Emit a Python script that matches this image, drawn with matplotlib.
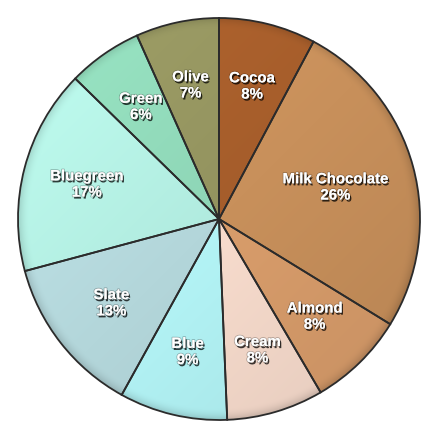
import numpy as np
import matplotlib.pyplot as plt
import matplotlib.colors as mcolors
import matplotlib.patheffects as pe

# slice shares, clockwise from 12 o'clock
flavours = ['Cocoa', 'Milk Chocolate', 'Almond', 'Cream', 'Blue',
            'Slate', 'Bluegreen', 'Green', 'Olive']
shares = [7.8, 26.0, 7.8, 7.8, 8.7, 12.8, 16.5, 6.0, 6.7]
pct_labels = ['8%', '26%', '8%', '8%', '9%', '13%', '17%', '6%', '7%']

colors = ['#a55d2b', '#c8905b', '#d99d6b', '#f8dccd', '#b3f4f6',
          '#b3d6da', '#b1ebdf', '#8ed5b6', '#93935f']

plt.rcParams['font.family'] = ['Liberation Sans', 'DejaVu Sans']

R = 201.0
cx, cy = 219.0, 444 - 219.0

fig = plt.figure(figsize=(4.48, 4.44), dpi=100)
ax = fig.add_axes([0, 0, 1, 1])

wedges, _ = ax.pie(shares, colors=colors, startangle=90, counterclock=False,
                   radius=R, center=(cx, cy), frame=True,
                   wedgeprops=dict(edgecolor='#2b2b2b', linewidth=1.3))
ax.set_xlim(0, 448)
ax.set_ylim(0, 444)
ax.set_aspect('equal')
ax.axis('off')

# lighting: brighter to the upper left, darker to the lower right and at the rim
n = 400
xs = np.linspace(cx - R, cx + R, n)
ys = np.linspace(cy - R, cy + R, n)
X, Y = np.meshgrid(xs, ys)
u = (X - cx) / R
v = (Y - cy) / R
rr = np.sqrt(u ** 2 + v ** 2)
light = 1.0 + 0.06 * (-u + v) / 1.41
rim = np.clip((rr - 0.94) / 0.06, 0, 1)
light = light - 0.15 * rim ** 2

for w, c in zip(wedges, colors):
    base = np.array(mcolors.to_rgb(c))
    img = np.clip(base[None, None, :] * light[:, :, None], 0, 1)
    im = ax.imshow(img, extent=(cx - R, cx + R, cy - R, cy + R), origin='lower',
                   interpolation='bilinear', zorder=1.5)
    im.set_clip_path(w)
    w.set_facecolor('none')
    w.set_zorder(2)

text_fx = [pe.withSimplePatchShadow(offset=(1, -1.5), shadow_rgbFace='black', alpha=0.75),
           pe.Stroke(linewidth=1.2, foreground=(0, 0, 0, 0.25)), pe.Normal()]

for w, name, pct in zip(wedges, flavours, pct_labels):
    mid = np.deg2rad((w.theta1 + w.theta2) / 2)
    f = 0.6 if name == 'Milk Chocolate' else 0.68
    tx = cx + f * R * np.cos(mid)
    ty = cy + f * R * np.sin(mid)
    ax.text(tx, ty, name + '\n' + pct, ha='center', va='center', color='white',
            fontsize=10.8, fontweight='bold', linespacing=1.2, zorder=3,
            path_effects=text_fx)

fig.savefig('out.png', dpi=100)
